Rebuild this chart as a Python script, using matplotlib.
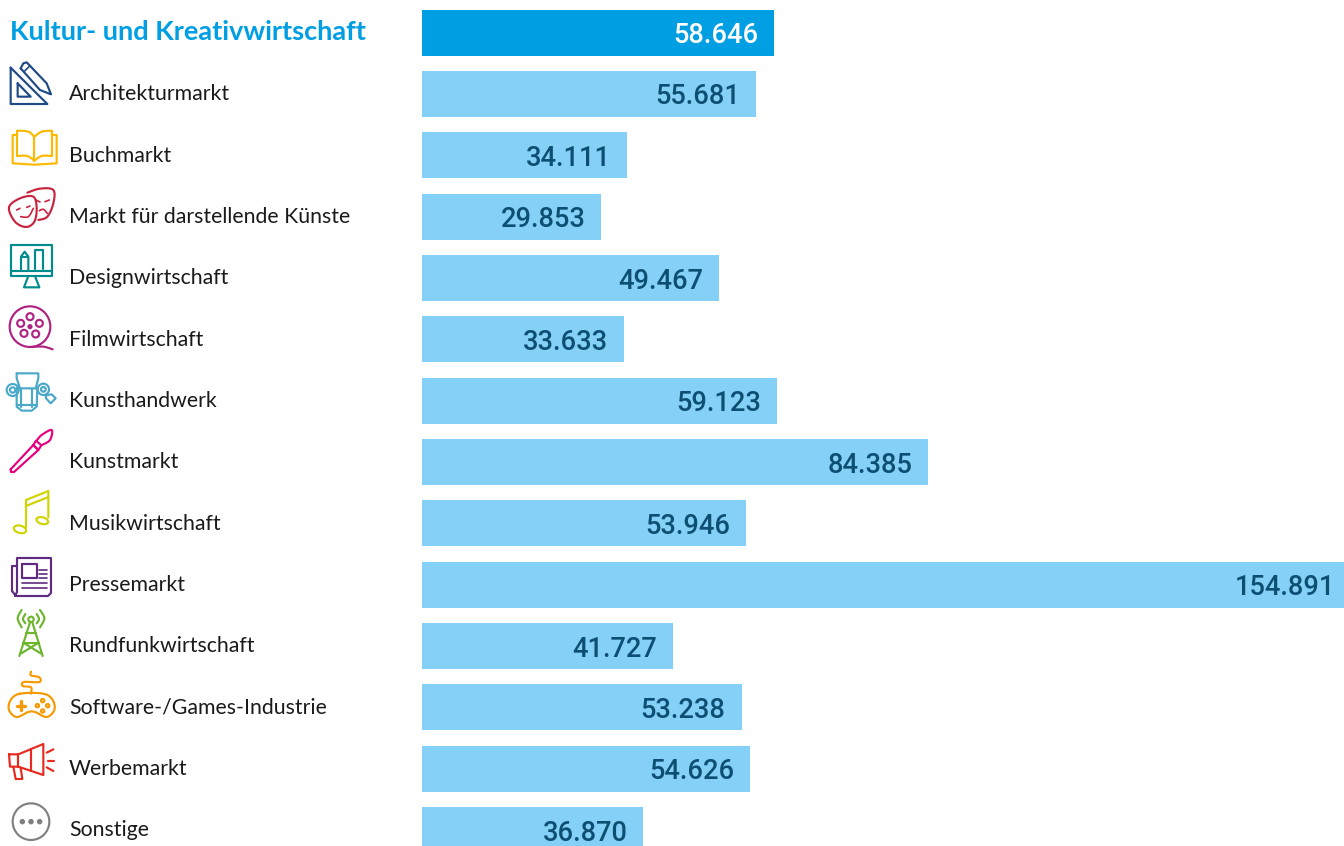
import numpy as np
import matplotlib
matplotlib.use("Agg")
import matplotlib.pyplot as plt
from matplotlib.patches import Ellipse
from matplotlib.transforms import blended_transform_factory

# ---- data ----
categories = ["Kultur- und Kreativwirtschaft", "Architekturmarkt", "Buchmarkt",
              "Markt für darstellende Künste", "Designwirtschaft", "Filmwirtschaft",
              "Kunsthandwerk", "Kunstmarkt", "Musikwirtschaft", "Pressemarkt",
              "Rundfunkwirtschaft", "Software-/Games-Industrie", "Werbemarkt", "Sonstige"]
values = [58.646, 55.681, 34.111, 29.853, 49.467, 33.633, 59.123,
          84.385, 53.946, 154.891, 41.727, 53.238, 54.626, 36.870]

W, H = 1344, 846
PX_PER_UNIT = 5.998
X0 = 422.3
ROW0, PITCH, BAR_H = 32.6, 61.35, 46.0
DARK, LIGHT, TXT, VAL = "#009fe3", "#84d0f6", "#1a1a1a", "#0d4f73"
LABEL_FONT = "Lato"
VALUE_FONT = "Roboto"
px = 0.72  # points per pixel at dpi 100

fig = plt.figure(figsize=(W / 100, H / 100), dpi=100, facecolor="white")
ax = fig.add_axes([0, 0, 1, 1])
ax.set_xlim(-X0 / PX_PER_UNIT, (W - X0) / PX_PER_UNIT)
ax.set_ylim((H - ROW0) / PITCH, -ROW0 / PITCH)
ax.axis("off")

ypos = np.arange(len(values))
ax.barh(ypos, values, height=BAR_H / PITCH,
        color=[DARK] + [LIGHT] * (len(values) - 1), linewidth=0)

lab_tr = blended_transform_factory(fig.transFigure, ax.transData)
for i, (c, v) in enumerate(zip(categories, values)):
    ax.annotate(f"{v:.3f}", (v, i), xytext=(-16 * px, -3 * px), textcoords="offset points",
                ha="right", va="center", family=VALUE_FONT, weight=500,
                fontsize=19.6, color="white" if i == 0 else VAL, annotation_clip=False)
    if i == 0:
        ax.text(10 / W, i - 1 / PITCH, c, transform=lab_tr, family=LABEL_FONT, weight="bold",
                fontsize=19.5, color=DARK, ha="left", va="center")
    else:
        ax.text(69 / W, i + 0.3 / PITCH, c, transform=lab_tr, family=LABEL_FONT,
                fontsize=15.3, color=TXT, ha="left", va="center")

# ---- pictogram overlay, in pixel space (decoration only) ----
ov = fig.add_axes([0, 0, 1, 1], facecolor="none")
ov.set_xlim(0, W); ov.set_ylim(H, 0); ov.axis("off")
LW = 1.55


def smooth(p, closed=False, n=12):
    p = np.asarray(p, float)
    if closed:
        q = np.vstack([p[-1], p, p[0], p[1]])
    else:
        q = np.vstack([p[0], p, p[-1]])
    out = []
    for i in range(1, len(q) - 2):
        for t in np.linspace(0, 1, n, endpoint=False):
            out.append(0.5 * (2 * q[i] + (q[i + 1] - q[i - 1]) * t
                              + (2 * q[i - 1] - 5 * q[i] + 4 * q[i + 1] - q[i + 2]) * t ** 2
                              + (3 * q[i] - q[i - 1] - 3 * q[i + 1] + q[i + 2]) * t ** 3))
    out.append(q[-2])
    return np.array(out)


class Icon:
    def __init__(self, color, y0):
        self.c, self.y0 = color, y0

    def z(self, pts):
        a = np.asarray(pts, float)
        return np.column_stack([a[:, 0] / 3, self.y0 + a[:, 1] / 3])

    def line(self, pts, closed=False, curve=False, lw=LW):
        a = self.z(pts)
        if curve:
            a = smooth(a, closed)
        elif closed:
            a = np.vstack([a, a[0]])
        ov.plot(a[:, 0], a[:, 1], color=self.c, lw=lw, solid_joinstyle="round", solid_capstyle="round")

    def ell(self, x, y, w, h=None, ang=0, fill=False, lw=LW):
        h = w if h is None else h
        ov.add_patch(Ellipse((x / 3, self.y0 + y / 3), w / 3, h / 3, angle=ang, lw=lw,
                             edgecolor=self.c, facecolor=self.c if fill else "none"))


# Architektur
a = Icon("#1f4a85", 0)
a.line([(32, 203), (32, 312), (142, 312)], closed=True)
a.line([(53, 250), (53, 290), (92, 290)], closed=True)
a.line([(62, 205), (70, 190), (80, 187), (140, 250), (153, 283), (120, 270)], closed=True)
a.line([(72, 215), (90, 197)], lw=1.2)
# Buch
b = Icon("#fbb900", 0)
b.line([(52, 405), (38, 405), (38, 490), (103, 494), (170, 490), (170, 405), (155, 405)])
b.line([(103, 410), (85, 395), (52, 392)], curve=True)
b.line([(103, 410), (125, 395), (155, 392)], curve=True)
b.line([(52, 392), (52, 468)])
b.line([(155, 392), (155, 468)])
b.line([(103, 410), (103, 482)])
b.line([(52, 468), (82, 468), (103, 482)], curve=True)
b.line([(155, 468), (125, 468), (103, 482)], curve=True)
# Masken
m = Icon("#c9243f", 0)
m.line([(82, 578), (120, 566), (160, 570), (160, 610), (142, 650), (115, 660)], curve=True)
m.line([(27, 622), (60, 595), (100, 590), (110, 625), (103, 665), (78, 681), (45, 665)], closed=True, curve=True)
m.line([(50, 630), (60, 625)], lw=1.2); m.line([(80, 622), (90, 618)], lw=1.2)
m.line([(62, 650), (85, 650), (100, 625)], curve=True, lw=1.2)
m.line([(108, 600), (120, 606)], lw=1.2); m.line([(135, 605), (148, 600)], lw=1.2)
m.line([(118, 632), (130, 628), (142, 640)], curve=True, lw=1.2)
# Design
d = Icon("#008b8d", 0)
d.line([(33, 735), (155, 735), (155, 828), (33, 828)], closed=True)
d.line([(33, 812), (155, 812)])
d.line([(85, 828), (72, 862), (118, 862), (105, 828)])
d.line([(63, 808), (63, 770), (74, 755), (85, 770), (85, 808)])
d.line([(63, 772), (85, 772)])
d.line([(104, 808), (104, 750), (128, 750), (128, 808)])
# Film
f = Icon("#ae2382", 290)
f.ell(90, 110, 122)
f.line([(90, 171), (130, 170), (158, 178)], curve=True)
for x, y in [(90, 80), (118, 100), (107, 132), (72, 130), (62, 100)]:
    f.ell(x, y, 21)
f.ell(90, 110, 9, fill=True)
# Kunsthandwerk
k = Icon("#4aa8c9", 290)
k.line([(50, 250), (115, 250), (115, 265), (107, 295)])
k.line([(50, 250), (50, 265), (60, 295)])
k.line([(50, 295), (112, 295), (110, 350), (95, 362), (65, 362), (50, 350)], closed=True)
k.line([(63, 298), (63, 350)]); k.line([(97, 298), (97, 350)]); k.line([(50, 345), (110, 345)])
k.ell(38, 300, 36); k.ell(38, 300, 16)
k.ell(130, 298, 34); k.ell(130, 298, 14)
k.line([(137, 316), (155, 313), (167, 325), (152, 340), (138, 325)], closed=True)
# Kunstmarkt
p = Icon("#e6007e", 290)
p.line([(32, 538), (100, 465), (115, 480), (42, 546), (33, 546)], closed=True)
p.line([(100, 465), (108, 452), (124, 466), (115, 480)], closed=True)
p.line([(110, 452), (125, 435), (155, 420), (150, 450), (124, 466)], curve=True)
# Musik
n = Icon("#cfd400", 290)
n.line([(78, 712), (78, 630), (145, 603), (145, 682)])
n.line([(78, 648), (145, 621)])
n.ell(60, 718, 38, 22, 15); n.ell(127, 692, 36, 20, 15)
# Presse
r = Icon("#5f2b80", 0)
s = lambda pts: [(x * 3, y * 3) for x, y in pts]
r.line(s([(17, 566), (12, 566), (12, 591), (16, 596), (48, 596), (51, 593), (51, 558), (17, 558), (17, 592), (15, 596)]))
r.line(s([(22, 564), (37, 564), (37, 578), (22, 578)]), closed=True)
for y in (570, 574, 578):
    r.line(s([(39, y), (47, y)]), lw=1.2)
for y in (583, 588):
    r.line(s([(22, y), (47, y)]), lw=1.2)
# Rundfunk
g = Icon("#6db52d", 570)
g.ell(93, 148, 16)
g.line([(58, 258), (90, 157)]); g.line([(128, 258), (97, 157)])
g.line([(78, 190), (108, 190)]); g.line([(70, 218), (116, 218)])
g.line([(70, 218), (122, 250)]); g.line([(116, 218), (64, 250)])
g.line([(65, 120), (53, 145), (65, 172)], curve=True); g.line([(76, 132), (69, 147), (76, 160)], curve=True)
g.line([(120, 120), (133, 145), (120, 172)], curve=True); g.line([(110, 132), (117, 147), (110, 160)], curve=True)
# Games
o = Icon("#f59a00", 570)
o.line([(60, 371), (130, 371), (158, 390), (163, 420), (140, 441), (105, 426), (85, 426), (50, 441), (27, 420), (32, 390)], closed=True, curve=True)
o.line([(93, 305), (93, 316), (118, 322), (118, 336), (72, 336), (68, 348), (93, 352), (93, 371)], curve=True)
o.line([(63, 394), (63, 420)], lw=2.4); o.line([(50, 407), (76, 407)], lw=2.4)
for x, y in [(112, 407), (143, 407), (128, 392), (128, 423)]:
    o.ell(x, y, 10)
# Werbung
w = Icon("#e8291f", 570)
w.line([(27, 553), (55, 553), (130, 522), (130, 615), (55, 590), (30, 590)], closed=True)
w.line([(55, 553), (55, 590)]); w.line([(92, 537), (92, 603)])
w.line([(40, 590), (47, 627), (67, 627), (62, 594)])
w.line([(140, 548), (160, 538)]); w.line([(143, 572), (163, 572)]); w.line([(140, 592), (160, 603)])
# Sonstige
t = Icon("#808080", 570)
t.ell(93, 755, 110)
for x in (67, 93, 119):
    t.ell(x, 755, 10, fill=True)

fig.savefig("out.png", dpi=100, facecolor="white")
